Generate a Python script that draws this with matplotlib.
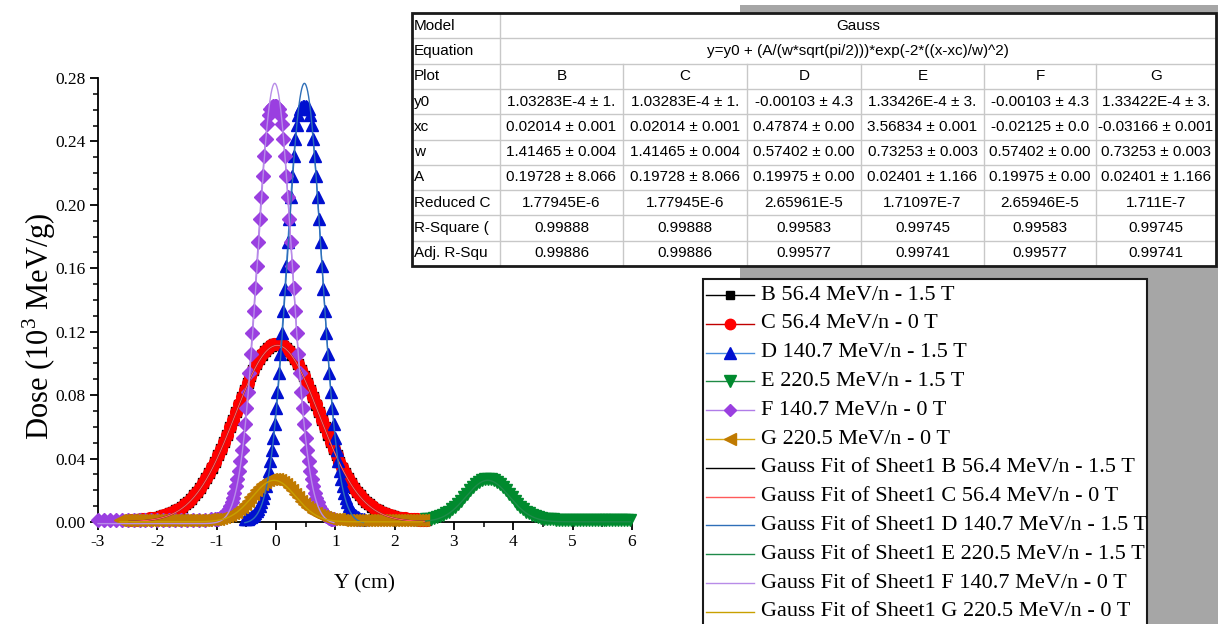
import numpy as np
import matplotlib
matplotlib.use("Agg")
import matplotlib.pyplot as plt
from matplotlib.patches import Rectangle
from matplotlib.ticker import MultipleLocator, FormatStrFormatter

plt.rcParams["font.family"] = ["Liberation Serif", "DejaVu Serif"]
plt.rcParams["mathtext.fontset"] = "custom"
plt.rcParams["mathtext.rm"] = "Liberation Serif"
plt.rcParams["axes.unicode_minus"] = False

# -------------------------------------------------
# Dados
# -------------------------------------------------
LABELS = ["B 56.4 MeV/n - 1.5 T", "C 56.4 MeV/n - 0 T", "D 140.7 MeV/n - 1.5 T",
          "E 220.5 MeV/n - 1.5 T", "F 140.7 MeV/n - 0 T", "G 220.5 MeV/n - 0 T"]

# inicio e passo da grade de Y (cm) de cada perfil medido
X_START = [-2.48, -2.48, -0.525, 2.52, -1.025, -2.63]
X_STEP = [0.05, 0.05, 0.025, 0.05, 0.025, 0.05]

DOSE_B = [0.0013, 0.0014, 0.0014, 0.0015, 0.0017, 0.0018, 0.0020, 0.0022, 0.0025, 0.0028,
          0.0031, 0.0036, 0.0041, 0.0047, 0.0055, 0.0063, 0.0073, 0.0084, 0.0097, 0.0112,
          0.0128, 0.0147, 0.0168, 0.0191, 0.0216, 0.0244, 0.0275, 0.0308, 0.0343, 0.0380,
          0.0420, 0.0462, 0.0506, 0.0551, 0.0598, 0.0645, 0.0693, 0.0740, 0.0787, 0.0833,
          0.0878, 0.0920, 0.0959, 0.0995, 0.1028, 0.1056, 0.1080, 0.1099, 0.1113, 0.1121,
          0.1124,
          0.1121, 0.1113, 0.1099, 0.1080, 0.1056, 0.1028, 0.0995, 0.0959, 0.0920, 0.0878,
          0.0833, 0.0787, 0.0740, 0.0693, 0.0645, 0.0598, 0.0551, 0.0506, 0.0462, 0.0420,
          0.0380, 0.0343, 0.0308, 0.0275, 0.0244, 0.0216, 0.0191, 0.0168, 0.0147, 0.0128,
          0.0112, 0.0097, 0.0084, 0.0073, 0.0063, 0.0055, 0.0047, 0.0041, 0.0036, 0.0031,
          0.0028, 0.0025, 0.0022, 0.0020, 0.0018, 0.0017, 0.0015, 0.0014, 0.0014, 0.0013]

DOSE_C = [0.0013, 0.0014, 0.0015, 0.0015, 0.0016, 0.0018, 0.0020, 0.0023, 0.0025, 0.0028,
          0.0032, 0.0036, 0.0041, 0.0048, 0.0055, 0.0064, 0.0073, 0.0085, 0.0097, 0.0111,
          0.0129, 0.0147, 0.0169, 0.0191, 0.0217, 0.0244, 0.0276, 0.0308, 0.0344, 0.0381,
          0.0421, 0.0462, 0.0507, 0.0551, 0.0599, 0.0645, 0.0694, 0.0741, 0.0788, 0.0834,
          0.0879, 0.0921, 0.0960, 0.0996, 0.1029, 0.1057, 0.1081, 0.1100, 0.1114, 0.1122,
          0.1125,
          0.1122, 0.1114, 0.1100, 0.1081, 0.1057, 0.1029, 0.0996, 0.0960, 0.0921, 0.0879,
          0.0834, 0.0788, 0.0741, 0.0694, 0.0646, 0.0599, 0.0552, 0.0507, 0.0463, 0.0421,
          0.0381, 0.0344, 0.0309, 0.0276, 0.0245, 0.0217, 0.0192, 0.0169, 0.0148, 0.0129,
          0.0113, 0.0098, 0.0085, 0.0074, 0.0064, 0.0056, 0.0048, 0.0042, 0.0036, 0.0032,
          0.0028, 0.0025, 0.0023, 0.0020, 0.0018, 0.0017, 0.0016, 0.0015, 0.0014, 0.0013]

DOSE_D = [0.0016, 0.0018, 0.0021, 0.0025, 0.0030, 0.0037, 0.0045, 0.0055, 0.0067, 0.0083,
          0.0101, 0.0124, 0.0152, 0.0185, 0.0224, 0.0269, 0.0322, 0.0383, 0.0453, 0.0531,
          0.0619, 0.0716, 0.0822, 0.0938, 0.1061, 0.1193, 0.1330, 0.1472, 0.1617, 0.1763,
          0.1908, 0.2049, 0.2184, 0.2309, 0.2418, 0.2506, 0.2568, 0.2604, 0.2618, 0.2622,
          0.2623,
          0.2622, 0.2618, 0.2604, 0.2568, 0.2506, 0.2418, 0.2309, 0.2184, 0.2049, 0.1908,
          0.1763, 0.1617, 0.1472, 0.1330, 0.1193, 0.1061, 0.0938, 0.0822, 0.0716, 0.0619,
          0.0531, 0.0453, 0.0383, 0.0322, 0.0269, 0.0224, 0.0185, 0.0152, 0.0124, 0.0101,
          0.0083, 0.0067, 0.0055, 0.0045, 0.0037, 0.0030, 0.0025, 0.0021, 0.0018, 0.0016]

DOSE_E = [0.0017, 0.0018, 0.0021, 0.0025, 0.0030, 0.0036, 0.0044, 0.0054, 0.0066, 0.0081,
          0.0097, 0.0115, 0.0135, 0.0156, 0.0178, 0.0199, 0.0220, 0.0238, 0.0253, 0.0264,
          0.0271, 0.0272, 0.0271, 0.0264, 0.0253, 0.0238, 0.0220, 0.0199, 0.0178, 0.0156,
          0.0135, 0.0115, 0.0097, 0.0081, 0.0066, 0.0054, 0.0044, 0.0036, 0.0030, 0.0025,
          0.0021, 0.0018, 0.0017, 0.0016, 0.0015, 0.0015, 0.0015, 0.0015, 0.0014, 0.0014,
          0.0014, 0.0014, 0.0013, 0.0013, 0.0013, 0.0013, 0.0013, 0.0013, 0.0012, 0.0012,
          0.0012, 0.0012, 0.0012, 0.0012, 0.0012, 0.0012, 0.0012, 0.0012, 0.0012, 0.0012]

DOSE_F = [0.0016, 0.0018, 0.0021, 0.0025, 0.0030, 0.0037, 0.0045, 0.0055, 0.0068, 0.0083,
          0.0102, 0.0124, 0.0152, 0.0186, 0.0224, 0.0270, 0.0322, 0.0384, 0.0453, 0.0532,
          0.0619, 0.0717, 0.0822, 0.0939, 0.1061, 0.1194, 0.1330, 0.1473, 0.1617, 0.1764,
          0.1908, 0.2050, 0.2184, 0.2310, 0.2418, 0.2507, 0.2568, 0.2605, 0.2618, 0.2622,
          0.2623,
          0.2622, 0.2618, 0.2605, 0.2568, 0.2507, 0.2418, 0.2310, 0.2184, 0.2050, 0.1908,
          0.1764, 0.1617, 0.1473, 0.1330, 0.1194, 0.1061, 0.0939, 0.0822, 0.0717, 0.0619,
          0.0532, 0.0453, 0.0384, 0.0322, 0.0270, 0.0224, 0.0186, 0.0152, 0.0124, 0.0102,
          0.0083, 0.0068, 0.0055, 0.0045, 0.0037, 0.0030, 0.0025, 0.0021, 0.0018, 0.0016]

# cauda esquerda de F (linha de base de -3.0 a -1.1 cm)
F_TAIL_START = -3.0
F_TAIL_STEP = 0.1
DOSE_F_TAIL = [0.0015, 0.0015, 0.0015, 0.0015, 0.0015, 0.0015, 0.0015, 0.0015, 0.0015, 0.0015,
               0.0015, 0.0015, 0.0015, 0.0015, 0.0015, 0.0015, 0.0015, 0.0015, 0.0015, 0.0016]

DOSE_G = [0.0015, 0.0015, 0.0015, 0.0015, 0.0015, 0.0015, 0.0015, 0.0015, 0.0015, 0.0015,
          0.0015, 0.0015, 0.0015, 0.0015, 0.0015, 0.0015, 0.0015, 0.0015, 0.0015, 0.0015,
          0.0015, 0.0015, 0.0015, 0.0015, 0.0015, 0.0015,
          0.0015, 0.0015, 0.0015, 0.0015, 0.0016, 0.0017, 0.0018, 0.0021, 0.0025, 0.0030,
          0.0036, 0.0044, 0.0054, 0.0066, 0.0081, 0.0097, 0.0115, 0.0135, 0.0156, 0.0178,
          0.0199, 0.0220, 0.0238, 0.0253, 0.0264, 0.0271, 0.0272, 0.0271, 0.0264, 0.0253,
          0.0238, 0.0220, 0.0199, 0.0178, 0.0156, 0.0135, 0.0115, 0.0097, 0.0081, 0.0066,
          0.0054, 0.0044, 0.0036, 0.0030, 0.0025, 0.0021, 0.0018, 0.0017, 0.0016, 0.0015,
          0.0015, 0.0015, 0.0015,
          0.0015, 0.0015, 0.0015, 0.0015, 0.0015, 0.0015, 0.0015, 0.0015, 0.0015, 0.0015,
          0.0015, 0.0015, 0.0015, 0.0015, 0.0015, 0.0015, 0.0015, 0.0015, 0.0015, 0.0015,
          0.0015, 0.0015, 0.0015, 0.0015]

DOSES = [DOSE_B, DOSE_C, DOSE_D, DOSE_E, DOSE_F, DOSE_G]

# parametros do ajuste Gauss (tabela)
FIT_Y0 = [1.03283e-4, 1.03283e-4, -0.00103, 1.33426e-4, -0.00103, 1.33422e-4]
FIT_XC = [0.02014, 0.02014, 0.47874, 3.56834, -0.02125, -0.03166]
FIT_W = [1.41465, 1.41465, 0.57402, 0.73253, 0.57402, 0.73253]
FIT_A = [0.19728, 0.19728, 0.19975, 0.02401, 0.19975, 0.02401]

# textos da tabela
TABLE_ROW_NAMES = ["Model", "Equation", "Plot", "y0", "xc", "w", "A",
                   "Reduced C", "R-Square (", "Adj. R-Squ"]
TABLE_MODEL = "Gauss"
TABLE_EQUATION = "y=y0 + (A/(w*sqrt(pi/2)))*exp(-2*((x-xc)/w)^2)"
TABLE_PLOT = ["B", "C", "D", "E", "F", "G"]
TABLE_Y0 = ["1.03283E-4 ± 1.", "1.03283E-4 ± 1.", "-0.00103 ± 4.3",
            "1.33426E-4 ± 3.", "-0.00103 ± 4.3", "1.33422E-4 ± 3."]
TABLE_XC = ["0.02014 ± 0.001", "0.02014 ± 0.001", "0.47874 ± 0.00",
            "3.56834 ± 0.001", "-0.02125 ± 0.0", "-0.03166 ± 0.001"]
TABLE_W = ["1.41465 ± 0.004", "1.41465 ± 0.004", "0.57402 ± 0.00",
           "0.73253 ± 0.003", "0.57402 ± 0.00", "0.73253 ± 0.003"]
TABLE_A = ["0.19728 ± 8.066", "0.19728 ± 8.066", "0.19975 ± 0.00",
           "0.02401 ± 1.166", "0.19975 ± 0.00", "0.02401 ± 1.166"]
TABLE_CHI = ["1.77945E-6", "1.77945E-6", "2.65961E-5", "1.71097E-7", "2.65946E-5", "1.711E-7"]
TABLE_R2 = ["0.99888", "0.99888", "0.99583", "0.99745", "0.99583", "0.99745"]
TABLE_ADJ = ["0.99886", "0.99886", "0.99577", "0.99741", "0.99577", "0.99741"]

# -------------------------------------------------
# Estilos
# -------------------------------------------------
MARKERS = ["s", "o", "^", "v", "D", "<"]
MARKER_SIZES = [7, 8.5, 9, 9, 7.5, 9]
MARKER_COLORS = ["#000000", "#ff0000", "#0010d0", "#008a2e", "#9a3fe0", "#c07a00"]
LINE_COLORS = ["#000000", "#c00000", "#4a8fdc", "#1f8a45", "#b07ce8", "#d8aa10"]
FIT_COLORS = ["#000000", "#ff5a5a", "#2f6fb8", "#1f8a4a", "#b88ce8", "#c8a000"]

fig = plt.figure(figsize=(12.18, 6.24), dpi=100)
ax = fig.add_axes([98 / 1218, 102 / 624, 534 / 1218, 444 / 624])

xs = []
for i, dose in enumerate(DOSES):
    x = X_START[i] + X_STEP[i] * np.arange(len(dose))
    y = np.array(dose)
    if i == 4:
        xt = F_TAIL_START + F_TAIL_STEP * np.arange(len(DOSE_F_TAIL))
        x = np.concatenate([xt, x])
        y = np.concatenate([DOSE_F_TAIL, y])
    xs.append(x)
    ax.plot(x, y, color=LINE_COLORS[i], lw=1, marker=MARKERS[i], ms=MARKER_SIZES[i],
            mfc=MARKER_COLORS[i], mec=MARKER_COLORS[i], clip_on=False, zorder=2 + i)

# curvas de ajuste
for i in range(6):
    xf = np.linspace(xs[i].min(), xs[i].max(), 800)
    yf = FIT_Y0[i] + (FIT_A[i] / (FIT_W[i] * np.sqrt(np.pi / 2))) * \
        np.exp(-2 * ((xf - FIT_XC[i]) / FIT_W[i]) ** 2)
    ax.plot(xf, yf, color=FIT_COLORS[i], lw=1, clip_on=False, zorder=10)

ax.set_xlim(-3, 6)
ax.set_ylim(0, 0.28)
ax.spines["top"].set_visible(False)
ax.spines["right"].set_visible(False)
for s in ["left", "bottom"]:
    ax.spines[s].set_linewidth(1.3)
ax.xaxis.set_major_locator(MultipleLocator(1))
ax.xaxis.set_minor_locator(MultipleLocator(0.5))
ax.yaxis.set_major_locator(MultipleLocator(0.04))
ax.yaxis.set_minor_locator(MultipleLocator(0.01))
ax.yaxis.set_major_formatter(FormatStrFormatter("%.2f"))
ax.xaxis.set_major_formatter(FormatStrFormatter("%d"))
ax.tick_params(which="major", direction="out", length=6, width=1.3, labelsize=12.5, pad=3)
ax.tick_params(which="minor", direction="out", length=3.5, width=1.1)
ax.set_xlabel("Y (cm)", fontsize=15.5)
ax.set_ylabel("Dose (10$^3$ MeV/g)", fontsize=22)
ax.xaxis.set_label_coords(0.5, -0.118)
ax.yaxis.set_label_coords(-0.075, 0.44)

# -------------------------------------------------
# Tabela, fundo cinza e legenda (coordenadas em pixels)
# -------------------------------------------------
ov = fig.add_axes([0, 0, 1, 1])
ov.set_xlim(0, 1218)
ov.set_ylim(624, 0)
ov.axis("off")

ov.add_patch(Rectangle((740, 5), 478, 619, facecolor="#a6a6a6", edgecolor="none", zorder=0))

col_edges = [412, 500, 623, 747, 861, 984, 1096, 1216]
row_h = 25.3
row_top = 13
n_rows = len(TABLE_ROW_NAMES)
tbl_bottom = row_top + n_rows * row_h
ov.add_patch(Rectangle((412, row_top), 804, n_rows * row_h, facecolor="white",
                       edgecolor="none", zorder=1))
for r in range(1, n_rows):
    yy = row_top + r * row_h
    ov.plot([412, 1216], [yy, yy], color="#c8c8c8", lw=1, zorder=2)
ov.plot([500, 500], [row_top, tbl_bottom], color="#c8c8c8", lw=1, zorder=2)
for c in col_edges[2:-1]:
    ov.plot([c, c], [row_top + 2 * row_h, tbl_bottom], color="#c8c8c8", lw=1, zorder=2)
ov.add_patch(Rectangle((412, row_top), 804, n_rows * row_h, facecolor="none",
                       edgecolor="#1a1a1a", lw=2, zorder=3))

tkw = dict(family=["Liberation Sans", "DejaVu Sans"], fontsize=11, va="center", zorder=4)
for r, name in enumerate(TABLE_ROW_NAMES):
    ov.text(414, row_top + (r + 0.5) * row_h, name, ha="left", **tkw)
mid = (500 + 1216) / 2
ov.text(mid, row_top + 0.5 * row_h, TABLE_MODEL, ha="center", **tkw)
ov.text(mid, row_top + 1.5 * row_h, TABLE_EQUATION, ha="center", **tkw)
table_rows = [TABLE_PLOT, TABLE_Y0, TABLE_XC, TABLE_W, TABLE_A, TABLE_CHI, TABLE_R2, TABLE_ADJ]
for r, vals in enumerate(table_rows):
    for c, v in enumerate(vals):
        cx = (col_edges[c + 1] + col_edges[c + 2]) / 2
        ov.text(cx, row_top + (r + 2.5) * row_h, v, ha="center", **tkw)

# legenda
ov.add_patch(Rectangle((703, 279), 444, 360, facecolor="white", edgecolor="#1a1a1a",
                       lw=1.5, zorder=1))
leg_y0 = 295
leg_dy = 28.8
for i in range(6):
    yy = leg_y0 + i * leg_dy
    ov.plot([706, 754], [yy, yy], color=LINE_COLORS[i], lw=1, zorder=2)
    ov.plot([730], [yy], marker=MARKERS[i], ms=MARKER_SIZES[i] - 1, color=MARKER_COLORS[i],
            zorder=3)
    ov.text(761, yy, LABELS[i], fontsize=16, va="center", ha="left", zorder=3)
for i in range(6):
    yy = leg_y0 + (i + 6) * leg_dy
    ov.plot([706, 754], [yy, yy], color=FIT_COLORS[i], lw=1, zorder=2)
    ov.text(761, yy, "Gauss Fit of Sheet1 " + LABELS[i], fontsize=16, va="center",
            ha="left", zorder=3)

fig.savefig("out.png", dpi=100)
